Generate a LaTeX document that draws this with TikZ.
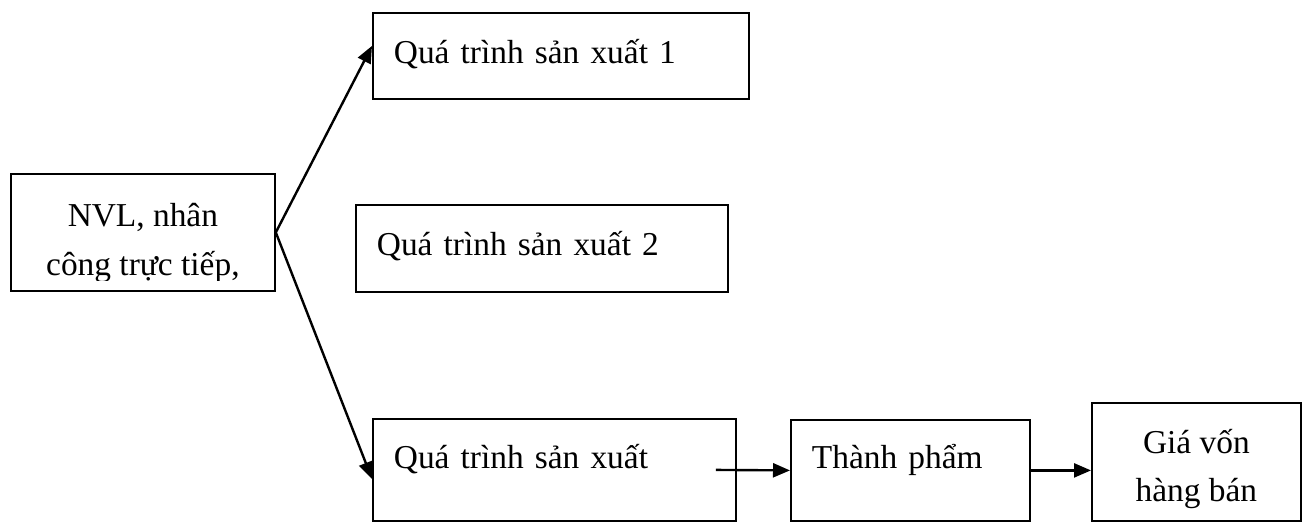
\documentclass[tikz,border=0pt]{standalone}
\usepackage{fontspec}
\setmainfont{Liberation Serif}
\usetikzlibrary{arrows.meta, positioning, calc}

\begin{document}
\begin{tikzpicture}[
    x=0.5pt, y=-0.5pt,
    every node/.style={font=\fontsize{16.7}{24.5}\selectfont},
    stepbox/.style={rectangle, draw, line width=0.9pt, anchor=north west, inner xsep=10.5pt, inner ysep=0pt, align=left},
    flow/.style={-{Triangle[length=8.5pt, width=7pt]}, line width=1.2pt}
]
\useasboundingbox (0,0) rectangle (1310,521);

% Input
\node[stepbox, minimum width=132pt, minimum height=58.5pt] (nvl) at (10,173) {};
\begin{scope}
  \clip (nvl.north west) rectangle ([yshift=5.5pt]nvl.south east); % last line is cut short
  \node[anchor=base, inner sep=0pt] (nvltext) at ([yshift=-26.5pt]nvl.north)
    {\vtop{\baselineskip=24.5pt \halign{\hfil#\hfil\cr NVL, nhân\cr công trực tiếp,\cr}}};
\end{scope}

% Production processes
\node[stepbox, text width=167pt, text height=25.5pt, text depth=17.5pt] (p1) at (372,12) {Quá trình sản xuất 1};
\node[stepbox, text width=165pt, text height=25.5pt, text depth=18pt] (p2) at (355,204) {Quá trình sản xuất 2};
\node[stepbox, text width=160.5pt, text height=25pt, text depth=26pt] (p3) at (372,418) {Quá trình sản xuất};

% Output
\node[stepbox, text width=98.5pt, text height=24.5pt, text depth=26pt] (tp) at (790,419) {Thành phẩm};
\node[stepbox, minimum width=104.5pt, align=center, text height=25.5pt, text depth=33.5pt] (gia) at (1091,402)
  {\vtop{\baselineskip=24pt \halign{\hfil#\hfil\cr Giá vốn\cr hàng bán\cr}}};

% Arrows
\draw[flow] (nvl.east) -- ([yshift=5pt]p1.west);
\draw[flow] (nvl.east) -- ([yshift=-4.5pt]p3.west);
\draw[flow] ([xshift=-10.5pt]p3.east) -- (tp.west);
\draw[flow] (tp.east) -- (tp.east -| gia.west);

\end{tikzpicture}
\end{document}
